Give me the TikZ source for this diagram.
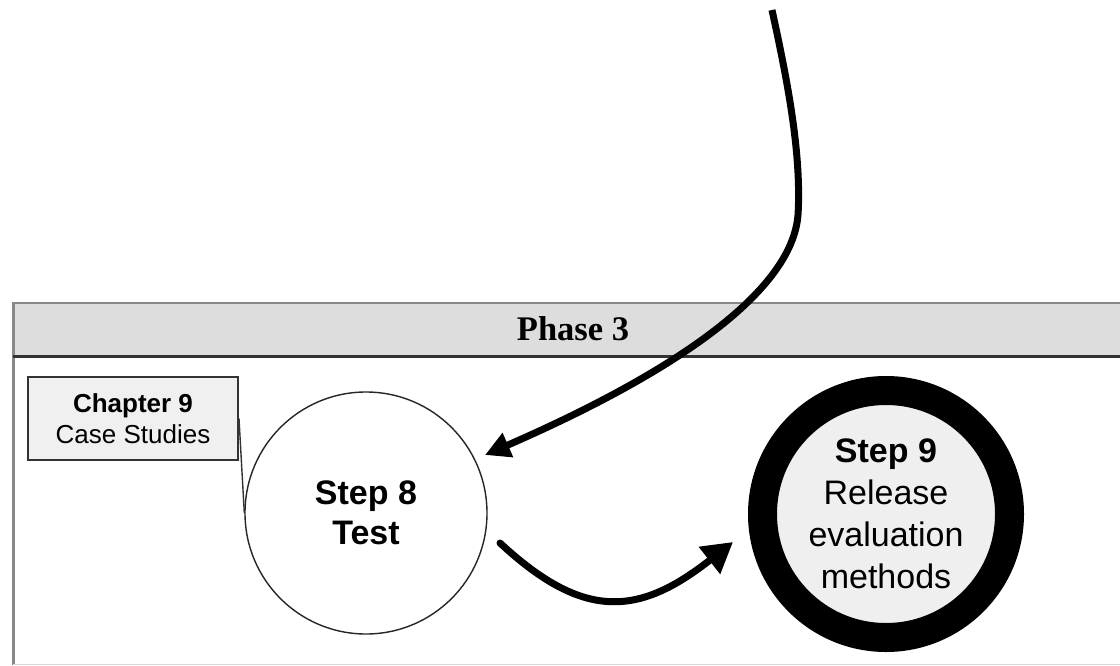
\documentclass[tikz,border=0pt]{standalone}
\usepackage{fontspec}
\setmainfont{Liberation Sans}
\newfontfamily\serifface{Liberation Serif}
\usetikzlibrary{arrows.meta}

\definecolor{headergray}{HTML}{DDDDDD}
\definecolor{boxgray}{HTML}{F0F0F0}
\definecolor{ringfill}{HTML}{EFEFEF}
\definecolor{edgegray}{HTML}{888888}
\definecolor{darkline}{HTML}{333333}

\tikzset{
  flow/.style={line width=7pt, draw=black},
  chapbox/.style={draw=darkline, line width=2pt, fill=boxgray, rectangle,
    minimum width=210pt, minimum height=83pt, inner sep=0pt, align=center,
    font=\fontsize{26}{31}\selectfont},
  stepcircle/.style={draw=black!85, line width=1.4pt, circle, fill=white,
    minimum size=242pt, inner sep=0pt, align=center,
    font=\fontsize{34}{40}\selectfont\bfseries},
  finalcircle/.style={draw=black, line width=29pt, circle, fill=ringfill,
    minimum size=247pt, inner sep=0pt, align=center,
    font=\fontsize{34}{42}\selectfont},
}

\begin{document}
\begin{tikzpicture}[x=1pt, y=-1pt]
  \useasboundingbox (0,0) rectangle (1120,665);

  % phase frame and its header band
  \fill[white] (13,303) rectangle (1125,664);
  \fill[headergray] (13,303) rectangle (1125,356);
  \draw[edgegray, line width=2.5pt] (13,303) -- (1125,303);
  \draw[edgegray, line width=3pt] (13,302) -- (13,665);
  \draw[darkline, line width=3pt] (13,356) -- (1125,356);
  \draw[black!15, line width=1pt] (13,664) -- (1125,664);
  \node[font=\serifface\bfseries\fontsize{34.5}{36}\selectfont] (phase) at (573,329) {Phase 3};

  % chapter reference and steps
  \node[chapbox] (chap) at (133,418.5) {\textbf{Chapter 9}\\Case Studies};
  \node[stepcircle] (s8) at (366,513) {Step 8\\Test};
  \node[finalcircle] (s9) at (886,514) {\textbf{Step 9}\\Release\\evaluation\\methods};
  \draw[darkline, line width=1.4pt] (chap.east) -- (s8.west);

  % incoming flow from the previous phase
  \coordinate (inStart) at (772,10);
  \coordinate (inBend) at (798,215);
  \coordinate (inTip) at (485,455);
  \draw[flow, -{Triangle[length=25pt,width=25pt]}]
    (inStart) .. controls (785,70) and (802,150) .. (inBend)
              .. controls (792,290) and (680,370) .. (inTip);

  % flow from step 8 to step 9
  \coordinate (outStart) at (500,543);
  \coordinate (outTip) at (733,542);
  \draw[flow, line cap=round, -{Triangle[length=30pt,width=33pt]}]
    (outStart) .. controls (585,622) and (640,615) .. (outTip);
\end{tikzpicture}
\end{document}
